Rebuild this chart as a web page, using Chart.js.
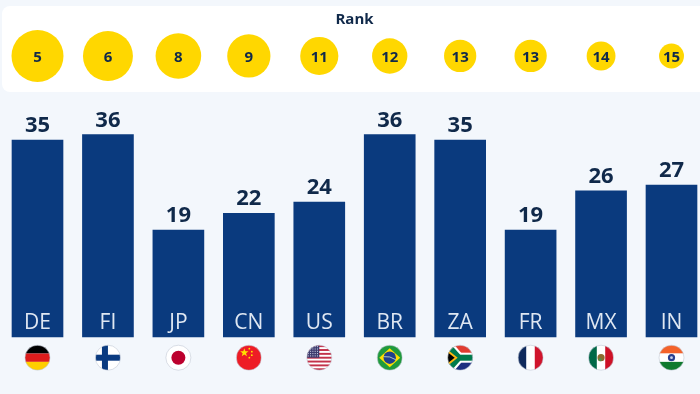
<!DOCTYPE html>
<html>
<head>
<meta charset="utf-8">
<title>Rank</title>
<script src="https://cdn.jsdelivr.net/npm/chart.js@4"></script>
<style>
  html, body { margin: 0; padding: 0; background: #f3f7fc; overflow: hidden; }
  canvas { display: block; }
</style>
</head>
<body>
<canvas id="chart" width="700" height="394"></canvas>
<script>
const countries = ['DE', 'FI', 'JP', 'CN', 'US', 'BR', 'ZA', 'FR', 'MX', 'IN'];
const values = [35, 36, 19, 22, 24, 36, 35, 19, 26, 27];
const ranks = [5, 6, 8, 9, 11, 12, 13, 13, 14, 15];
const rankTitle = 'Rank';

const FONT = '"Open Sans", "Noto Sans", sans-serif';
const INK = '#10294a';
const RANK_ROW = 49.96; // height of the circle row on the y axis

// flags are just decoration, each one is clipped to a circle below
const rect = (c, col, x, y, w, h) => { c.fillStyle = col; c.fillRect(x, y, w, h); };
const disc = (c, col, x, y, r) => { c.fillStyle = col; c.beginPath(); c.arc(x, y, r, 0, Math.PI * 2); c.fill(); };
const poly = (c, col, pts) => {
  c.fillStyle = col;
  c.beginPath();
  pts.forEach((p, i) => i ? c.lineTo(p[0], p[1]) : c.moveTo(p[0], p[1]));
  c.closePath();
  c.fill();
};

const flags = {
  DE(c, r) {
    rect(c, '#000000', -r, -r, 2 * r, 2 * r / 3);
    rect(c, '#dd1c1c', -r, -r / 3, 2 * r, 2 * r / 3);
    rect(c, '#ffce00', -r, r / 3, 2 * r, 2 * r / 3);
  },
  FI(c, r) {
    rect(c, '#ffffff', -r, -r, 2 * r, 2 * r);
    rect(c, '#0a3a80', -r, -3, 2 * r, 6);
    rect(c, '#0a3a80', -6, -r, 6, 2 * r);
  },
  JP(c, r) {
    rect(c, '#ffffff', -r, -r, 2 * r, 2 * r);
    disc(c, '#bc002d', 0, 0, 7);
  },
  CN(c, r) {
    rect(c, '#ee1c25', -r, -r, 2 * r, 2 * r);
    const star = [];
    for (let i = 0; i < 10; i++) {
      const a = -Math.PI / 2 + i * Math.PI / 5, s = i % 2 ? 1.8 : 4.4;
      star.push([-4.5 + s * Math.cos(a), -5 + s * Math.sin(a)]);
    }
    poly(c, '#ffe000', star);
    [[0.5, -9], [3, -6], [3, -2.5], [0.5, 0]].forEach(p => disc(c, '#ffe000', p[0], p[1], 0.9));
  },
  US(c, r) {
    rect(c, '#ffffff', -r, -r, 2 * r, 2 * r);
    for (let i = 0; i < 7; i++) rect(c, '#c3324a', -r, -r + i * 2 * r / 6.5, 2 * r, r / 6.5);
    rect(c, '#3c3b6e', -r, -r, r, r);
    c.fillStyle = '#d5d8ea';
    for (let i = 0; i < 5; i++) for (let j = 0; j < 5; j++) c.fillRect(-r + 1 + j * 2.3, -r + 1 + i * 2.3, 1, 1);
  },
  BR(c, r) {
    rect(c, '#1f9a3c', -r, -r, 2 * r, 2 * r);
    poly(c, '#fedf00', [[-r + 2, 0], [0, -r + 3], [r - 2, 0], [0, r - 3]]);
    disc(c, '#1f3f8c', 0, 0, 6.2);
    c.strokeStyle = '#d8e4d0';
    c.lineWidth = 0.8;
    c.beginPath();
    c.moveTo(-6, -1);
    c.quadraticCurveTo(0, -2, 6, 2);
    c.stroke();
  },
  ZA(c, r) {
    rect(c, '#e03c31', -r, -r, 2 * r, r);
    rect(c, '#1c2f80', -r, 0, 2 * r, r);
    rect(c, '#ffffff', -r, -5, 2 * r, 10);
    poly(c, '#ffffff', [[-r, -r], [-r + 7, -r], [1, -5], [1, 5], [-r + 7, r], [-r, r]]);
    rect(c, '#007a4d', -2, -3, r + 3, 6);
    poly(c, '#007a4d', [[-r, -r + 1], [-r + 4, -r], [0, -3], [0, 3], [-r + 4, r], [-r, r - 1]]);
    poly(c, '#ffb612', [[-r, -8], [-2.5, 0], [-r, 8]]);
    poly(c, '#000000', [[-r, -5.5], [-5.5, 0], [-r, 5.5]]);
  },
  FR(c, r) {
    rect(c, '#0f2a5c', -r, -r, 2 * r / 3, 2 * r);
    rect(c, '#ffffff', -r / 3, -r, 2 * r / 3, 2 * r);
    rect(c, '#d0142c', r / 3, -r, 2 * r / 3, 2 * r);
  },
  MX(c, r) {
    rect(c, '#006847', -r, -r, 2 * r / 3, 2 * r);
    rect(c, '#ffffff', -r / 3, -r, 2 * r / 3, 2 * r);
    rect(c, '#ce1126', r / 3, -r, 2 * r / 3, 2 * r);
    disc(c, '#8c6a2e', 0, 0, 3.6);
    disc(c, '#4f8f4a', -1, 2, 1.6);
  },
  IN(c, r) {
    rect(c, '#f4622a', -r, -r, 2 * r, 2 * r / 3);
    rect(c, '#ffffff', -r, -r / 3, 2 * r, 2 * r / 3);
    rect(c, '#0f7a2e', -r, r / 3, 2 * r, 2 * r / 3);
    disc(c, '#2a3f8f', 0, 0, 3.6);
    disc(c, '#c9d2ea', 0, 0, 1.4);
  }
};

const decorations = {
  id: 'decorations',
  beforeDatasetsDraw(chart) {
    const c = chart.ctx;
    c.save();
    c.fillStyle = '#ffffff';
    c.beginPath();
    c.roundRect(2, 6, 720, 86, 8);
    c.fill();
    c.fillStyle = INK;
    c.font = '700 15px ' + FONT;
    c.textAlign = 'center';
    c.textBaseline = 'alphabetic';
    c.fillText(rankTitle, 354.5, 23.5);
    c.restore();
  },
  afterDatasetsDraw(chart) {
    const c = chart.ctx;
    const bars = chart.getDatasetMeta(1).data;
    const bubbles = chart.getDatasetMeta(0).data;
    c.save();
    c.textAlign = 'center';
    c.textBaseline = 'alphabetic';
    bars.forEach((bar, i) => {
      c.fillStyle = INK;
      c.font = '700 22px ' + FONT;
      c.fillText(values[i], bar.x, bar.y - 8);
      c.fillStyle = '#dfe7f2';
      c.font = '400 21px ' + FONT;
      c.fillText(countries[i], bar.x, 329);

      c.save();
      c.translate(bar.x, 357.7);
      c.beginPath();
      c.arc(0, 0, 12.5, 0, Math.PI * 2);
      c.clip();
      flags[countries[i]](c, 12.5);
      c.restore();
      c.strokeStyle = 'rgba(190,198,210,0.7)';
      c.lineWidth = 0.8;
      c.beginPath();
      c.arc(bar.x, 357.7, 12.5, 0, Math.PI * 2);
      c.stroke();
    });
    c.fillStyle = INK;
    c.font = '700 15px ' + FONT;
    bubbles.forEach((b, i) => c.fillText(ranks[i], b.x, 62));
    c.restore();
  }
};

new Chart(document.getElementById('chart'), {
  data: {
    labels: countries,
    datasets: [
      {
        type: 'bubble',
        label: rankTitle,
        data: ranks.map((rank, i) => ({ x: countries[i], y: RANK_ROW, r: Math.sqrt(52 * (18 - rank)) })),
        backgroundColor: '#ffd700',
        borderWidth: 0,
        clip: false,
        order: 1
      },
      {
        type: 'bar',
        label: 'Value',
        data: values,
        backgroundColor: '#0a3a7e',
        barThickness: 51,
        clip: false,
        order: 2
      }
    ]
  },
  options: {
    responsive: false,
    animation: false,
    events: [],
    // the biggest bubble (r 26) pushes the chart area down by itself
    layout: { padding: { left: 37.5, right: 28.5, top: 26, bottom: 57 } },
    plugins: { legend: { display: false }, tooltip: { enabled: false } },
    scales: {
      x: {
        type: 'category',
        offset: false,
        display: false
      },
      y: {
        min: 0,
        max: 55.29,
        display: false
      }
    }
  },
  plugins: [decorations]
});
</script>
</body>
</html>
